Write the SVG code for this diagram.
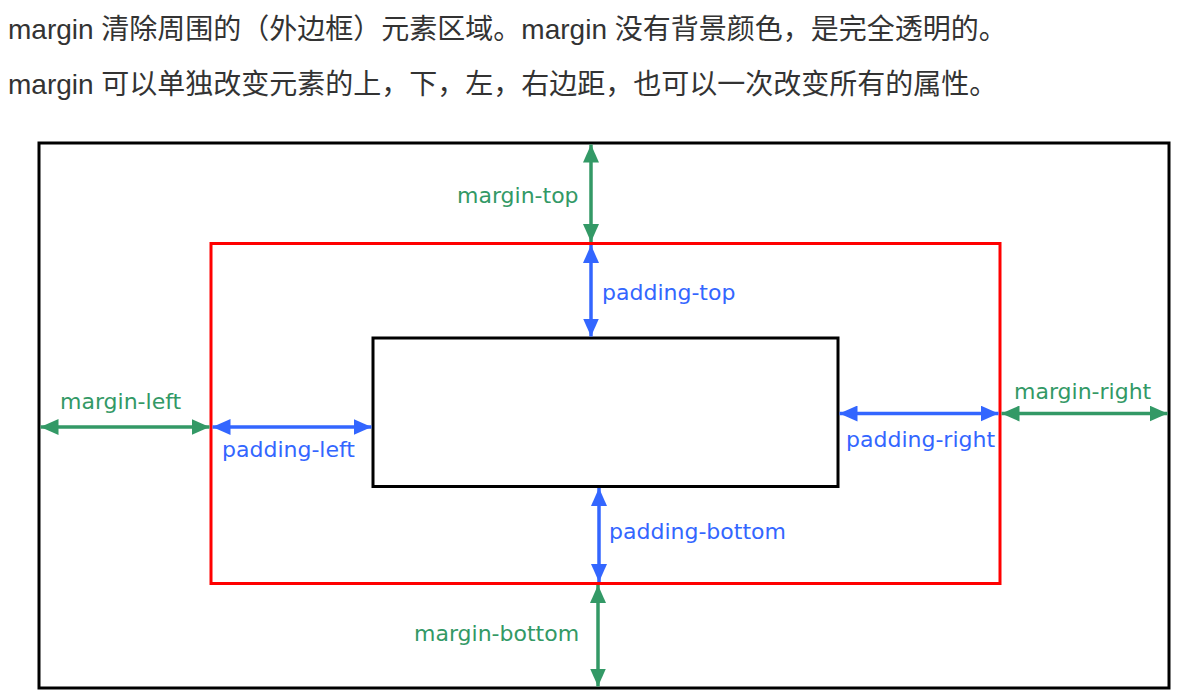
<svg xmlns="http://www.w3.org/2000/svg" width="1197" height="697" viewBox="0 0 1197 697">
  <style>
    .intro { font-family: "Liberation Sans", "Noto Sans CJK SC", sans-serif; font-size: 28px; fill: #333333; }
    .lbl { font-family: "DejaVu Sans", sans-serif; font-size: 22px; }
    .m { fill: #339966; }
    .p { fill: #3366ff; }
    .box { fill: none; stroke-width: 3; }
    .arrow-m { stroke: #339966; stroke-width: 3.5; fill: none; marker-start: url(#headM); marker-end: url(#headM); }
    .arrow-p { stroke: #3366ff; stroke-width: 3.5; fill: none; marker-start: url(#headP); marker-end: url(#headP); }
  </style>
  <defs>
    <marker id="headM" viewBox="0 0 18 16" refX="18" refY="8" markerWidth="18" markerHeight="16" markerUnits="userSpaceOnUse" orient="auto-start-reverse">
      <path d="M0,0 L18,8 L0,16 Z" fill="#339966"/>
    </marker>
    <marker id="headP" viewBox="0 0 18 16" refX="18" refY="8" markerWidth="18" markerHeight="16" markerUnits="userSpaceOnUse" orient="auto-start-reverse">
      <path d="M0,0 L18,8 L0,16 Z" fill="#3366ff"/>
    </marker>
  </defs>
  <rect width="1197" height="697" fill="#ffffff"/>

  <!-- introductory text -->
  <text class="intro" x="8" y="39">margin 清除周围的（外边框）元素区域。margin 没有背景颜色，是完全透明的。</text>
  <text class="intro" x="8" y="94">margin 可以单独改变元素的上，下，左，右边距，也可以一次改变所有的属性。</text>

  <!-- box model outlines -->
  <g id="margin-box"><rect class="box" x="39" y="143" width="1130" height="545" stroke="#000000"/></g>
  <g id="border-box"><rect class="box" x="211" y="243.5" width="789" height="340" stroke="#ff0000"/></g>
  <g id="content-box"><rect class="box" x="373" y="338" width="465" height="148.5" stroke="#000000"/></g>

  <!-- dimension arrows -->
  <g id="connectors">
    <line class="arrow-m" x1="591" y1="144.5" x2="591" y2="242"/>
    <line class="arrow-p" x1="591" y1="245" x2="591" y2="336.5"/>
    <line class="arrow-m" x1="40.5" y1="427" x2="209.5" y2="427"/>
    <line class="arrow-p" x1="212.5" y1="427" x2="371.5" y2="427"/>
    <line class="arrow-p" x1="839.5" y1="413.5" x2="998.5" y2="413.5"/>
    <line class="arrow-m" x1="1001.5" y1="413.5" x2="1167.5" y2="413.5"/>
    <line class="arrow-p" x1="599" y1="488" x2="599" y2="582"/>
    <line class="arrow-m" x1="598" y1="585" x2="598" y2="686.5"/>
  </g>

  <!-- labels -->
  <g id="label-margin-top"><text class="lbl m" x="457" y="203">margin-top</text></g>
  <g id="label-padding-top"><text class="lbl p" x="602" y="300">padding-top</text></g>
  <g id="label-margin-left"><text class="lbl m" x="60" y="409">margin-left</text></g>
  <g id="label-padding-left"><text class="lbl p" x="222" y="457">padding-left</text></g>
  <g id="label-margin-right"><text class="lbl m" x="1014" y="399">margin-right</text></g>
  <g id="label-padding-right"><text class="lbl p" x="846" y="447">padding-right</text></g>
  <g id="label-padding-bottom"><text class="lbl p" x="609" y="539">padding-bottom</text></g>
  <g id="label-margin-bottom"><text class="lbl m" x="414" y="641">margin-bottom</text></g>
</svg>
